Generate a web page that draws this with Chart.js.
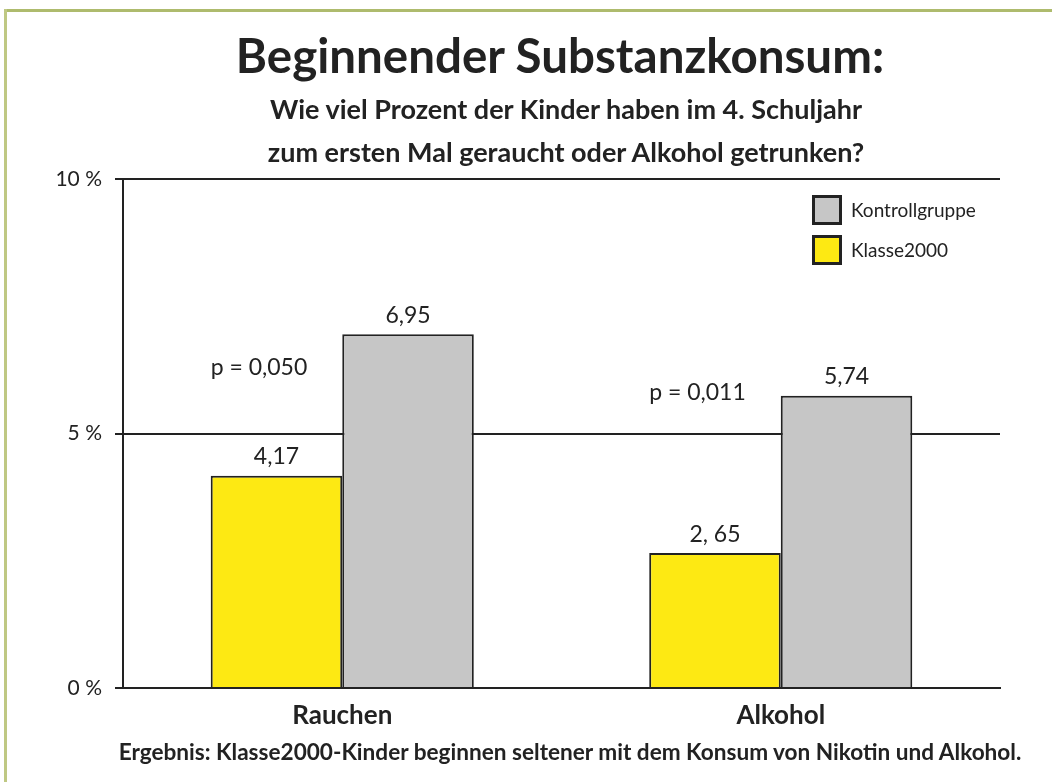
<!DOCTYPE html>
<html lang="de">
<head>
<meta charset="utf-8">
<title>Beginnender Substanzkonsum</title>
<script src="https://cdn.jsdelivr.net/npm/chart.js@4/dist/chart.umd.min.js"></script>
<style>
  html, body { margin: 0; padding: 0; background: #fff; }
  #wrap { position: relative; width: 1052px; height: 782px; overflow: hidden; font-family: Lato, "Open Sans", sans-serif; color: #222; }
  #chart { position: absolute; left: 0; top: 0; }
  .frame-top { position: absolute; left: 4px; top: 9px; width: 1048px; height: 3px; background: #aebb6d; }
  .frame-left { position: absolute; left: 4px; top: 9px; width: 3px; height: 773px; background: #bfc883; }
  .txt { position: absolute; transform: translateX(-50%); white-space: nowrap; text-align: center; font-weight: 700; }
  #title { left: 560px; top: 30px; font-size: 47.5px; line-height: 50px; }
  #subtitle { left: 566px; top: 87px; font-size: 27px; line-height: 43px; }
  #footer { left: 570px; top: 738px; font-size: 22.6px; line-height: 28px; }
</style>
</head>
<body>
<div id="wrap">
  <div class="frame-top"></div>
  <div class="frame-left"></div>
  <canvas id="chart" width="1052" height="782"></canvas>
  <div class="txt" id="title">Beginnender Substanzkonsum:</div>
  <div class="txt" id="subtitle">Wie viel Prozent der Kinder haben im 4. Schuljahr<br>zum ersten Mal geraucht oder Alkohol getrunken?</div>
  <div class="txt" id="footer">Ergebnis: Klasse2000-Kinder beginnen seltener mit dem Konsum von Nikotin und Alkohol.</div>
</div>
<script>
  // Data
  const categories = ['Rauchen', 'Alkohol'];
  const klasse2000 = [4.17, 2.65];
  const kontrollgruppe = [6.95, 5.74];
  const klasse2000Labels = ['4,17', '2, 65'];
  const kontrollLabels = ['6,95', '5,74'];
  const pValues = ['p = 0,050', 'p = 0,011'];
  const pLevels = [6.3, 5.8]; // height (in %) where each p-value note sits
  const yTicks = [0, 5, 10];

  const ink = '#222';
  const yellow = '#fde913';
  const grey = '#c6c6c6';

  // value labels above bars + p-value notes
  const barLabels = {
    id: 'barLabels',
    afterDatasetsDraw(chart) {
      const ctx = chart.ctx;
      const y = chart.scales.y;
      ctx.save();
      ctx.fillStyle = ink;
      ctx.textBaseline = 'middle';
      ctx.font = '23px Lato, sans-serif';
      ctx.textAlign = 'center';
      chart.data.datasets.forEach((ds, i) => {
        chart.getDatasetMeta(i).data.forEach((bar, j) => {
          ctx.fillText(ds.valueLabels[j], bar.x, bar.y - 19);
        });
      });
      ctx.textAlign = 'left';
      chart.getDatasetMeta(0).data.forEach((bar, j) => {
        ctx.fillText(pValues[j], bar.x - bar.width / 2, y.getPixelForValue(pLevels[j]));
      });
      ctx.restore();
    }
  };

  // legend inside the plot, top right, Kontrollgruppe first
  const boxLegend = {
    id: 'boxLegend',
    afterDraw(chart) {
      const { ctx, chartArea } = chart;
      const items = chart.data.datasets.slice().reverse();
      ctx.save();
      ctx.font = '19px Lato, sans-serif';
      ctx.textBaseline = 'middle';
      ctx.textAlign = 'left';
      items.forEach((ds, i) => {
        const bx = chartArea.right - 188;
        const by = chartArea.top + 16 + i * 40;
        ctx.fillStyle = ds.backgroundColor;
        ctx.fillRect(bx, by, 30, 30);
        ctx.lineWidth = 3;
        ctx.strokeStyle = ink;
        ctx.strokeRect(bx + 1.5, by + 1.5, 27, 27);
        ctx.fillStyle = ink;
        ctx.fillText(ds.label, bx + 39, by + 16);
      });
      ctx.restore();
    }
  };

  new Chart(document.getElementById('chart'), {
    type: 'bar',
    data: {
      labels: categories,
      datasets: [
        {
          label: 'Klasse2000',
          data: klasse2000,
          valueLabels: klasse2000Labels,
          backgroundColor: yellow,
          borderColor: ink,
          borderWidth: 2,
          categoryPercentage: 0.6,
          barPercentage: 1.0
        },
        {
          label: 'Kontrollgruppe',
          data: kontrollgruppe,
          valueLabels: kontrollLabels,
          backgroundColor: grey,
          borderColor: ink,
          borderWidth: 2,
          categoryPercentage: 0.6,
          barPercentage: 1.0
        }
      ]
    },
    options: {
      responsive: false,
      animation: false,
      layout: { padding: { top: 179, right: 52, bottom: 44, left: 53 } },
      plugins: {
        legend: { display: false },
        title: { display: false },
        tooltip: { enabled: false }
      },
      scales: {
        x: {
          grid: { display: false, drawTicks: false },
          border: { display: true, color: ink, width: 2 },
          ticks: { color: ink, padding: 12, font: { family: 'Lato', size: 26, weight: 'bold' } },
          afterFit: (s) => { s.height = 50; }
        },
        y: {
          min: 0,
          max: 10,
          afterBuildTicks: (s) => { s.ticks = yTicks.map(v => ({ value: v })); },
          grid: { color: ink, lineWidth: 2, tickLength: 8, drawTicks: true },
          border: { display: true, color: ink, width: 2 },
          ticks: {
            color: ink,
            padding: 13,
            font: { family: 'Lato', size: 21 },
            callback: (v) => v + ' %'
          },
          afterFit: (s) => { s.width = 70; }
        }
      }
    },
    plugins: [barLabels, boxLegend]
  });
</script>
</body>
</html>
